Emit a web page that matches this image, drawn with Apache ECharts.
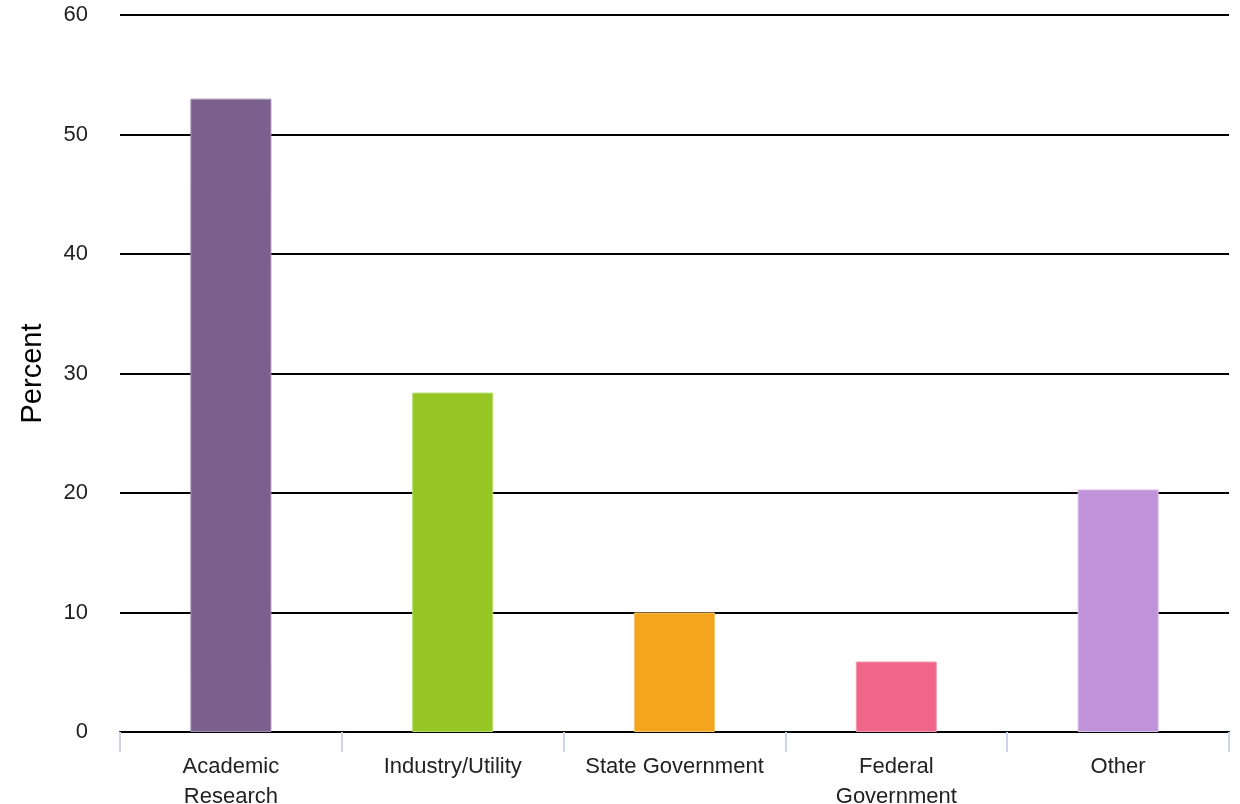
<!DOCTYPE html>
<html>
<head>
<meta charset="utf-8">
<script src="https://cdn.jsdelivr.net/npm/echarts@6/dist/echarts.min.js"></script>
<style>
html,body{margin:0;padding:0;background:#fff;}
#chart{width:1240px;height:804px;}
</style>
</head>
<body>
<div id="chart"></div>
<script>
// Sectors and their share (percent)
const categories = ['Academic\nResearch', 'Industry/Utility', 'State Government', 'Federal\nGovernment', 'Other'];
const percentValues = [53, 28.4, 10, 5.9, 20.3];
const barColors = ['#7B5F8C', '#95C626', '#F4A51C', '#F06689', '#BF92DA'];
const barBorders = ['#A58FB3', '#B7DC6A', '#F8C56A', '#F599B0', '#D9BDEA'];

const FONT = 'Liberation Sans, Arial, sans-serif';
const chart = echarts.init(document.getElementById('chart'), null, { renderer: 'canvas' });

chart.setOption({
  animation: false,
  backgroundColor: '#ffffff',
  grid: { left: 120, right: 11, top: 15, bottom: 72, containLabel: false, outerBoundsMode: 'none' },
  xAxis: {
    type: 'category',
    data: categories,
    axisLine: { show: true, lineStyle: { color: '#000', width: 2 } },
    axisTick: { show: true, alignWithLabel: false, length: 20, lineStyle: { color: '#CCD6EB', width: 2 } },
    axisLabel: {
      color: '#222', fontFamily: FONT, fontSize: 22,
      margin: 20, lineHeight: 30, interval: 0
    }
  },
  yAxis: {
    type: 'value',
    min: 0, max: 60, interval: 10,
    name: 'Percent',
    nameLocation: 'middle',
    nameGap: 73,
    nameRotate: 90,
    nameTextStyle: { color: '#000', fontFamily: FONT, fontSize: 29 },
    axisLine: { show: false },
    axisTick: { show: false },
    axisLabel: { color: '#222', fontFamily: FONT, fontSize: 22, margin: 32 },
    splitLine: { show: true, lineStyle: { color: '#000', width: 2 } }
  },
  series: [{
    type: 'bar',
    barWidth: 81,
    data: percentValues.map((v, i) => ({
      value: v,
      itemStyle: { color: barColors[i], borderColor: barBorders[i], borderWidth: 1 }
    }))
  }]
});
</script>
</body>
</html>
